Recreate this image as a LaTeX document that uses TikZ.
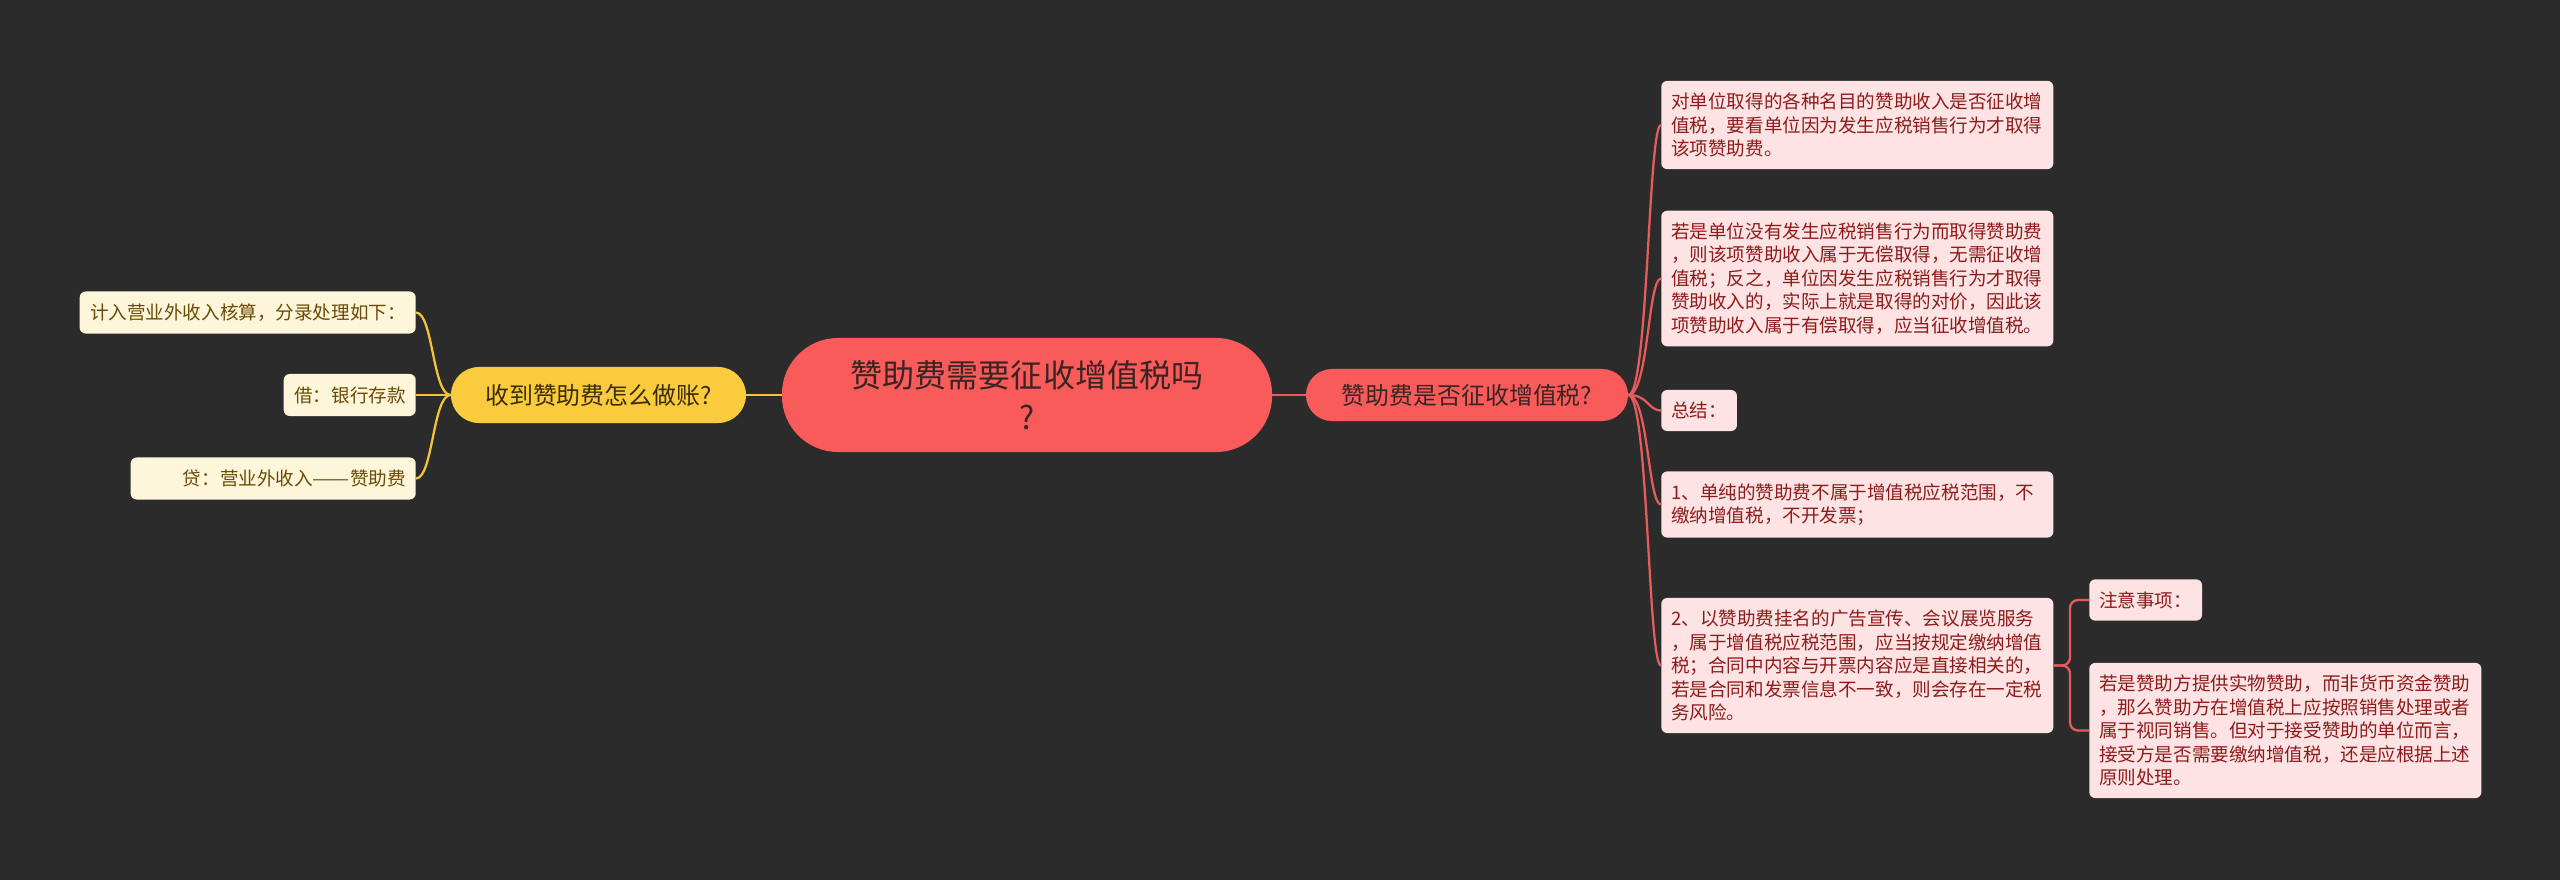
\documentclass[tikz,border=0pt]{standalone}
\usepackage{fontspec}
\setmainfont{Noto Sans CJK SC}
\usepackage{xcolor}
\usepackage{graphicx}
\newcommand{\leafsize}{\fontsize{13.2pt}{16.7pt}\selectfont}
\newcommand{\branchsize}{\fontsize{17pt}{21pt}\selectfont}
\newcommand{\rootsize}{\fontsize{22.8pt}{30pt}\selectfont}
\newcommand{\longdash}{\resizebox{2em}{\height}{——}}
\definecolor{mapback}{HTML}{2B2B2B}
\definecolor{mapred}{HTML}{F95B5B}
\definecolor{mapredline}{HTML}{E65C5C}
\definecolor{mappink}{HTML}{FDE3E3}
\definecolor{mapredink}{HTML}{8E1B1B}
\definecolor{mapdark}{HTML}{3A2424}
\definecolor{mapyellow}{HTML}{FBCB3E}
\definecolor{mapyellowline}{HTML}{F3C33C}
\definecolor{mapcream}{HTML}{FEF6DA}
\definecolor{mapbrown}{HTML}{6A4B05}
\definecolor{mapyellowink}{HTML}{3B2C02}

\begin{document}
\begin{tikzpicture}[
  x=0.025cm,
  y=-0.025cm,
  rootbox/.style={fill=mapred, text=mapdark, rounded corners=1.4cm,
                  minimum width=12.25cm, minimum height=2.85cm,
                  align=center, font=\rootsize},
  redbranch/.style={fill=mapred, text=mapdark, rounded corners=0.65cm,
                    minimum width=8.05cm, minimum height=1.3cm, font=\branchsize},
  yellowbranch/.style={fill=mapyellow, text=mapyellowink, rounded corners=0.7cm,
                       minimum width=7.375cm, minimum height=1.4cm, font=\branchsize},
  pinkleaf/.style={fill=mappink, text=mapredink, rounded corners=0.15cm,
                   inner xsep=0.25cm, inner ysep=0.3cm, align=left, font=\leafsize},
  creamleaf/.style={fill=mapcream, text=mapbrown, rounded corners=0.15cm,
                    inner xsep=0.25cm, minimum height=1.05cm, align=right,
                    font=\leafsize},
  redlink/.style={mapredline, line width=1.6pt},
  yellowlink/.style={mapyellowline, line width=1.6pt}
]
  % ---- canvas (fixes the page size, one unit = one reference pixel) ----
  \fill[mapback] (0,0) rectangle (2560,880);

  % ---- centre and the two main branches ----
  \node[rootbox] (root) at (1027,395) {赞助费需要征收增值税吗\\?};
  \node[redbranch] (taxq) at (1467,395) {赞助费是否征收增值税?};
  \node[yellowbranch] (bookq) at (598.5,395) {收到赞助费怎么做账?};

  % ---- left leaves (book entries) ----
  \node[creamleaf, text width=7.9cm, anchor=east] (entry) at (416,312.5)
    {计入营业外收入核算，分录处理如下：};
  \node[creamleaf, text width=2.8cm, anchor=east] (debit) at (416,395)
    {借：银行存款};
  \node[creamleaf, text width=6.625cm, anchor=east] (credit) at (416,478.5)
    {贷：营业外收入\longdash 赞助费};

  % ---- right leaves ----
  \node[pinkleaf, text width=9.3cm, anchor=west] (unitrule) at (1661,125)
    {对单位取得的各种名目的赞助收入是否征收增\\
     值税，要看单位因为发生应税销售行为才取得\\
     该项赞助费。};
  \node[pinkleaf, text width=9.3cm, anchor=west] (freerule) at (1661,278.5)
    {若是单位没有发生应税销售行为而取得赞助费\\
     ，则该项赞助收入属于无偿取得，无需征收增\\
     值税；反之，单位因发生应税销售行为才取得\\
     赞助收入的，实际上就是取得的对价，因此该\\
     项赞助收入属于有偿取得，应当征收增值税。};
  \node[pinkleaf, anchor=west] (summary) at (1661,410.5) {总结：};
  \node[pinkleaf, text width=9.3cm, anchor=west] (pointone) at (1661,504.5)
    {1、单纯的赞助费不属于增值税应税范围，不\\
     缴纳增值税，不开发票；};
  \node[pinkleaf, text width=9.3cm, anchor=west] (pointtwo) at (1661,665.5)
    {2、以赞助费挂名的广告宣传、会议展览服务\\
     ，属于增值税应税范围，应当按规定缴纳增值\\
     税；合同中内容与开票内容应是直接相关的，\\
     若是合同和发票信息不一致，则会存在一定税\\
     务风险。};

  % ---- third level under point two ----
  \node[pinkleaf, anchor=west] (notice) at (2089,600) {注意事项：};
  \node[pinkleaf, text width=9.3cm, anchor=west] (inkind) at (2089,730.5)
    {若是赞助方提供实物赞助，而非货币资金赞助\\
     ，那么赞助方在增值税上应按照销售处理或者\\
     属于视同销售。但对于接受赞助的单位而言，\\
     接受方是否需要缴纳增值税，还是应根据上述\\
     原则处理。};

  % ---- connectors ----
  \draw[redlink] (root.east) -- (taxq.west);
  \draw[yellowlink] (root.west) -- (bookq.east);
  \foreach \leaf in {unitrule, freerule, summary, pointone, pointtwo}
    \draw[redlink] (taxq.east) .. controls +(20,0) and +(-13,0) .. (\leaf.west);
  \foreach \leaf in {entry, debit, credit}
    \draw[yellowlink] (bookq.west) .. controls +(-18,0) and +(17,0) .. (\leaf.east);
  \coordinate (fork) at (2070,665.5);
  \draw[redlink, rounded corners=0.2cm] (pointtwo.east) -- (fork) |- (notice.west);
  \draw[redlink, rounded corners=0.2cm] (pointtwo.east) -- (fork) |- (inkind.west);
\end{tikzpicture}
\end{document}
